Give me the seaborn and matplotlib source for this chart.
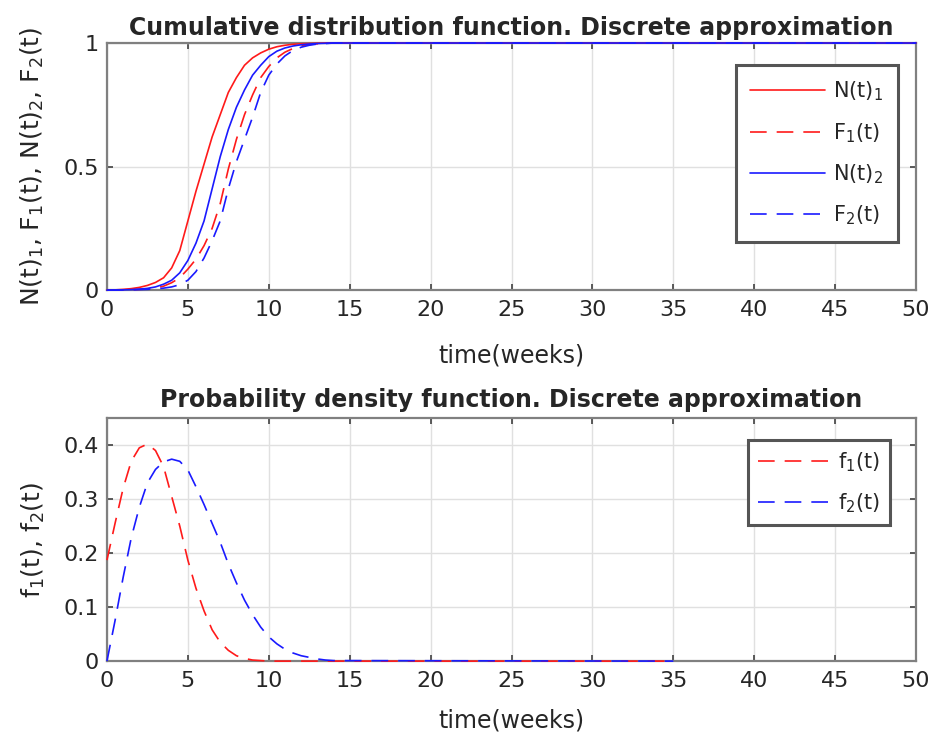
import matplotlib
matplotlib.use("Agg")
import matplotlib.pyplot as plt
import seaborn as sns
import pandas as pd

# time grid (weeks)
t_cdf = [0, 0.5, 1, 1.5, 2, 2.5, 3, 3.5, 4, 4.5, 5, 5.5, 6, 6.5, 7, 7.5, 8, 8.5, 9, 9.5,
         10, 10.5, 11, 11.5, 12, 12.5, 13, 13.5, 14, 50]
N1 = [0, 0.001, 0.003, 0.006, 0.011, 0.019, 0.031, 0.05, 0.09, 0.16, 0.28, 0.40, 0.51, 0.62,
      0.71, 0.80, 0.86, 0.91, 0.94, 0.96, 0.975, 0.985, 0.991, 0.995, 0.997, 0.998, 0.999, 1, 1, 1]
F1 = [0, 0, 0.001, 0.002, 0.003, 0.005, 0.009, 0.016, 0.03, 0.05, 0.085, 0.125, 0.18, 0.25,
      0.35, 0.49, 0.61, 0.71, 0.79, 0.86, 0.905, 0.94, 0.963, 0.978, 0.988, 0.994, 0.997, 0.999, 1, 1]
N2 = [0, 0.0005, 0.001, 0.002, 0.004, 0.007, 0.013, 0.024, 0.04, 0.07, 0.12, 0.19, 0.28, 0.41,
      0.54, 0.65, 0.74, 0.81, 0.87, 0.91, 0.945, 0.967, 0.98, 0.988, 0.993, 0.996, 0.998, 0.999, 1, 1]
F2 = [0, 0, 0.0005, 0.001, 0.002, 0.003, 0.005, 0.008, 0.013, 0.022, 0.04, 0.075, 0.13, 0.2,
      0.28, 0.41, 0.52, 0.61, 0.7, 0.8, 0.87, 0.915, 0.948, 0.97, 0.983, 0.991, 0.996, 0.998, 1, 1]

t_pdf = [0, 0.5, 1, 1.5, 2, 2.5, 3, 3.5, 4, 4.5, 5, 5.5, 6, 6.5, 7, 7.5, 8, 8.5, 9, 9.5,
         10, 10.5, 11, 11.5, 12, 12.5, 13, 13.5, 14, 35]
f1 = [0.187, 0.255, 0.32, 0.37, 0.395, 0.402, 0.39, 0.36, 0.305, 0.25, 0.187, 0.135, 0.093,
      0.058, 0.035, 0.02, 0.01, 0.005, 0.002, 0.001, 0, 0, 0, 0, 0, 0, 0, 0, 0, 0]
f2 = [0, 0.075, 0.155, 0.228, 0.285, 0.33, 0.355, 0.369, 0.374, 0.37, 0.354, 0.323, 0.29,
      0.255, 0.22, 0.18, 0.145, 0.113, 0.086, 0.063, 0.045, 0.032, 0.022, 0.015, 0.01, 0.007,
      0.004, 0.002, 0.001, 0]

x_ticks = list(range(0, 51, 5))

sns.set_theme(style="whitegrid")
plt.rcParams["font.family"] = ["DejaVu Sans"]
plt.rcParams["mathtext.default"] = "regular"

cdf_df = pd.DataFrame({"t": t_cdf, "N1": N1, "F1": F1, "N2": N2, "F2": F2})
pdf_df = pd.DataFrame({"t": t_pdf, "f1": f1, "f2": f2})

fig = plt.figure(figsize=(9.3, 7.42), dpi=100)
ax1 = fig.add_axes([0.115, 0.609, 0.870, 0.333])
ax2 = fig.add_axes([0.115, 0.109, 0.870, 0.3275])

red, blue = "#ff1a1a", "#1a1aff"
dash = (10, 6)
lw = 1.2
sns.lineplot(data=cdf_df, x="t", y="N1", ax=ax1, color=red, lw=lw, label="N(t)$_1$")
sns.lineplot(data=cdf_df, x="t", y="F1", ax=ax1, color=red, lw=lw, dashes=dash, label="F$_1$(t)")
sns.lineplot(data=cdf_df, x="t", y="N2", ax=ax1, color=blue, lw=lw, label="N(t)$_2$")
sns.lineplot(data=cdf_df, x="t", y="F2", ax=ax1, color=blue, lw=lw, dashes=dash, label="F$_2$(t)")

sns.lineplot(data=pdf_df, x="t", y="f1", ax=ax2, color=red, lw=lw, dashes=dash, label="f$_1$(t)")
sns.lineplot(data=pdf_df, x="t", y="f2", ax=ax2, color=blue, lw=lw, dashes=dash, label="f$_2$(t)")

# matlab-ish axes styling
for ax in (ax1, ax2):
    ax.set_xlim(0, 50)
    ax.set_xticks(x_ticks)
    ax.grid(True, color="#e0e0e0", lw=1.0)
    ax.set_facecolor("white")
    for s in ax.spines.values():
        s.set_color("#808080")
        s.set_linewidth(1.6)
    ax.tick_params(axis="both", direction="in", length=4, width=1.2, color="#404040",
                   labelsize=16, labelcolor="#262626", top=True, right=True, bottom=True, left=True)
    ax.tick_params(axis="x", pad=7)
    ax.tick_params(axis="y", pad=6)
    # curves drawn over the frame like matlab does
    for line in ax.lines:
        line.set_zorder(3)
        line.set_clip_on(False)

ax1.set_xlabel("time(weeks)", fontsize=17, color="#262626", labelpad=17)
ax2.set_xlabel("time(weeks)", fontsize=17, color="#262626", labelpad=13)

ax1.set_ylim(0, 1)
ax1.set_yticks([0, 0.5, 1])
ax1.set_yticklabels(["0", "0.5", "1"])
ax1.set_ylabel("N(t)$_1$, F$_1$(t), N(t)$_2$, F$_2$(t)", fontsize=18, color="#262626", labelpad=12)
ax1.set_title("Cumulative distribution function. Discrete approximation",
              fontsize=17, fontweight="bold", pad=6)

ax2.set_ylim(0, 0.45)
ax2.set_yticks([0, 0.1, 0.2, 0.3, 0.4])
ax2.set_yticklabels(["0", "0.1", "0.2", "0.3", "0.4"])
ax2.set_ylabel("f$_1$(t), f$_2$(t)", fontsize=18, color="#262626", labelpad=12)
ax2.set_title("Probability density function. Discrete approximation",
              fontsize=17, fontweight="bold", pad=8)

leg1 = ax1.legend(loc="upper right", bbox_to_anchor=(0.978, 0.911), borderaxespad=0, fontsize=15,
                  handlelength=3.6, handletextpad=0.4, labelspacing=0.85, borderpad=0.7,
                  fancybox=False, framealpha=1)
leg2 = ax2.legend(loc="upper right", bbox_to_anchor=(0.968, 0.909), borderaxespad=0, fontsize=15,
                  handlelength=3.4, handletextpad=0.4, labelspacing=0.8, borderpad=0.5,
                  fancybox=False, framealpha=1)
for leg in (leg1, leg2):
    leg.get_frame().set_edgecolor("#555555")
    leg.get_frame().set_linewidth(2.2)
    for txt in leg.get_texts():
        txt.set_color("#262626")

fig.savefig("out.png", dpi=100)
